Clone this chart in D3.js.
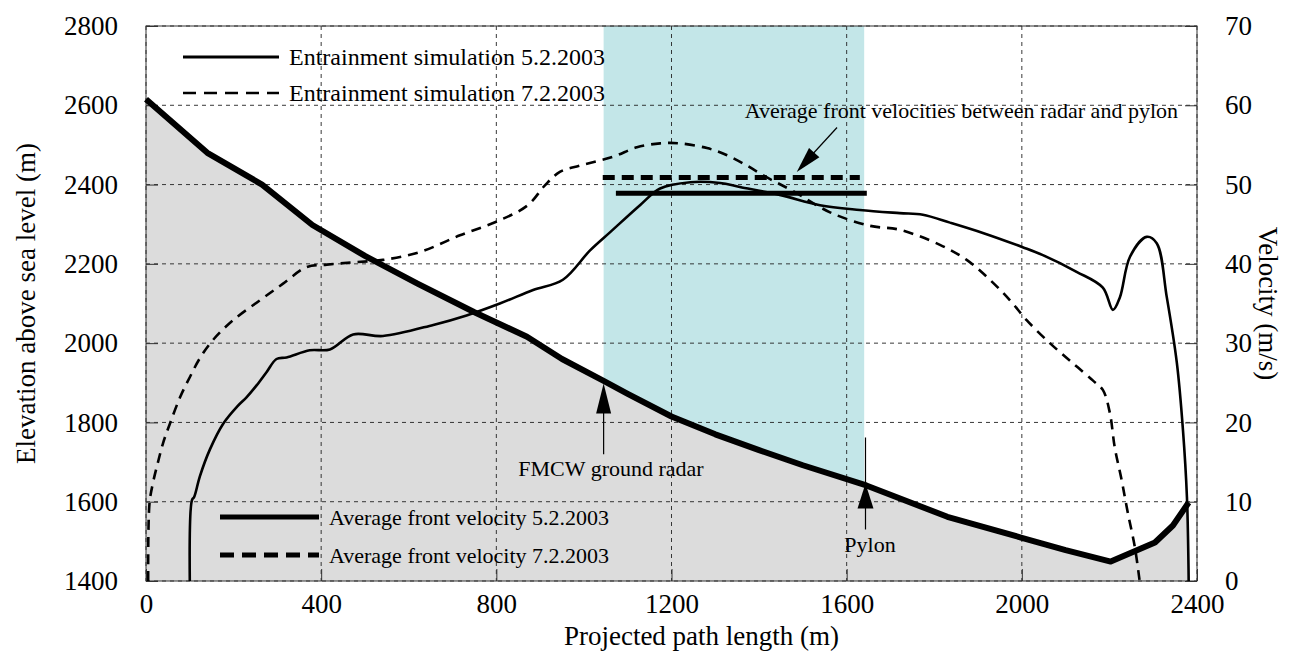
<!DOCTYPE html>
<html>
<head>
<meta charset="utf-8">
<script src="https://cdn.jsdelivr.net/npm/d3@7"></script>
<style>
  body { margin: 0; background: #fff; }
</style>
</head>
<body>
<div class="canvas"></div>
<script>
// terrain profile (projected path length m, elevation m)
const terrainDist = [0, 140, 265, 380, 500, 620, 750, 870, 950, 1045, 1100, 1200, 1300, 1400, 1500, 1645, 1830, 2000, 2100, 2203, 2304, 2345, 2381]
const terrainElev = [2615, 2480, 2400, 2298, 2220, 2150, 2078, 2016, 1960, 1905, 1872, 1815, 1770, 1730, 1692, 1641, 1562, 1509, 1478, 1449, 1497, 1540, 1598]

// entrainment simulation 5.2.2003 (m, m/s)
const sim05Dist = [100, 105, 110, 123, 146, 177, 208, 230, 253, 276, 298, 321, 374, 420, 473, 541, 656, 732, 808, 884, 952, 1014, 1060, 1128, 1174, 1243, 1311, 1356, 1447, 1539, 1630, 1721, 1774, 1836, 1911, 2002, 2048, 2125, 2185, 2208, 2224, 2247, 2285, 2308, 2331, 2354, 2368, 2377, 2381]
const sim05Vel = [0, 10.2, 10.6, 13.2, 16.6, 19.9, 22.0, 23.2, 24.7, 26.4, 28.0, 28.2, 29.1, 29.2, 31.1, 30.9, 32.3, 33.5, 35.0, 36.7, 38.0, 41.7, 44.0, 47.4, 49.5, 50.3, 50.2, 49.7, 48.7, 47.4, 46.8, 46.4, 46.2, 45.2, 43.9, 42.1, 41.1, 39.0, 37.0, 34.2, 35.8, 40.9, 43.4, 42.6, 35.8, 27.5, 19.0, 10.6, 0]

// entrainment simulation 7.2.2003 (m, m/s)
const sim07Dist = [5, 8, 16, 27, 39, 55, 78, 100, 123, 153, 199, 260, 313, 367, 413, 473, 541, 626, 717, 808, 872, 911, 945, 991, 1066, 1121, 1174, 1219, 1281, 1327, 1372, 1418, 1477, 1562, 1653, 1721, 1813, 1874, 1927, 1973, 2011, 2064, 2116, 2162, 2185, 2201, 2212, 2228, 2242, 2258, 2269]
const sim07Vel = [0, 9.8, 12.4, 14.9, 17.4, 19.9, 23.2, 25.7, 28.1, 30.4, 32.9, 35.4, 37.5, 39.6, 39.9, 40.2, 40.5, 41.5, 43.6, 45.5, 47.4, 49.9, 51.6, 52.4, 53.5, 54.7, 55.2, 55.2, 54.6, 53.7, 52.4, 50.9, 49.2, 46.5, 44.8, 44.3, 42.4, 40.5, 38.0, 35.4, 32.9, 30.0, 27.5, 25.3, 24.1, 21.2, 16.9, 12.7, 8.6, 4.3, 0]

// average front velocities between radar and pylon
const avgFrontFrom = [1073, 1043]
const avgFrontTo = [1646, 1630]
const avgFrontVel = [48.9, 50.9]

const radarDist = 1045
const pylonDist = 1640

const distTicks = [0, 400, 800, 1200, 1600, 2000, 2400]
const elevTicks = [1400, 1600, 1800, 2000, 2200, 2400, 2600, 2800]
const velTicks = [0, 10, 20, 30, 40, 50, 60, 70]

const simLabels = ['Entrainment simulation 5.2.2003', 'Entrainment simulation 7.2.2003']
const avgLabels = ['Average front velocity 5.2.2003', 'Average front velocity 7.2.2003']

const serif = "'Liberation Serif', 'Times New Roman', Times, 'DejaVu Serif', serif"
const width = 1291
const height = 654
const plot = { left: 146, right: 1197, top: 26, bottom: 581 }

const svg = d3.select('.canvas')
  .append('svg')
  .attr('width', width)
  .attr('height', height)
  .attr('font-family', serif)

const x = d3.scaleLinear().domain([0, 2400]).range([plot.left, plot.right])
const yElev = d3.scaleLinear().domain([1400, 2800]).range([plot.bottom, plot.top])
const yVel = d3.scaleLinear().domain([0, 70]).range([plot.bottom, plot.top])

const terrain = terrainDist.map((d, i) => [d, terrainElev[i]])
const sim05 = sim05Dist.map((d, i) => [d, sim05Vel[i]])
const sim07 = sim07Dist.map((d, i) => [d, sim07Vel[i]])

function addText(px, py, str, size, anchor) {
  return svg.append('text')
    .attr('x', px)
    .attr('y', py)
    .attr('text-anchor', anchor || 'start')
    .attr('font-family', serif)
    .attr('font-size', size)
    .attr('fill', '#000')
    .text(str)
}

// cyan band between radar and pylon
svg.append('rect')
  .attr('x', x(radarDist))
  .attr('y', plot.top)
  .attr('width', x(pylonDist) - x(radarDist))
  .attr('height', plot.bottom - plot.top)
  .attr('fill', '#c3e6e8')

// grey area under the terrain
svg.append('path')
  .datum(terrain)
  .attr('fill', '#dcdcdc')
  .attr('d', d3.area()
    .x(d => x(d[0]))
    .y0(plot.bottom)
    .y1(d => yElev(d[1])))

// grid
const grid = svg.append('g')
  .attr('stroke', '#222')
  .attr('stroke-width', 0.9)
  .attr('stroke-dasharray', '4,4')
grid.selectAll('.vgrid')
  .data(distTicks)
  .enter().append('line')
  .attr('x1', d => x(d)).attr('x2', d => x(d))
  .attr('y1', plot.top).attr('y2', plot.bottom)
grid.selectAll('.hgrid')
  .data(elevTicks)
  .enter().append('line')
  .attr('x1', plot.left).attr('x2', plot.right)
  .attr('y1', d => yElev(d)).attr('y2', d => yElev(d))

// frame
svg.append('rect')
  .attr('x', plot.left).attr('y', plot.top)
  .attr('width', plot.right - plot.left)
  .attr('height', plot.bottom - plot.top)
  .attr('fill', 'none')
  .attr('stroke', '#333')
  .attr('stroke-width', 1)

// axes
function styleAxis(g) {
  g.attr('font-family', serif).attr('font-size', 27)
  g.select('.domain').remove()
  g.selectAll('.tick line').attr('stroke', '#333').attr('stroke-width', 1)
  g.selectAll('text').attr('fill', '#000')
}

svg.append('g')
  .attr('transform', `translate(${plot.left},0)`)
  .call(d3.axisLeft(yElev).tickValues(elevTicks).tickFormat(d3.format('d')).tickSize(-12).tickPadding(28))
  .call(styleAxis)

svg.append('g')
  .attr('transform', `translate(${plot.right},0)`)
  .call(d3.axisRight(yVel).tickValues(velTicks).tickFormat(d3.format('d')).tickSize(-12).tickPadding(28))
  .call(styleAxis)

svg.append('g')
  .attr('transform', `translate(0,${plot.bottom})`)
  .call(d3.axisBottom(x).tickValues(distTicks).tickFormat(d3.format('d')).tickSize(-12).tickPadding(13))
  .call(styleAxis)

addText((plot.left + plot.right) / 2 + 30, 645, 'Projected path length (m)', 27, 'middle')

addText(0, 0, 'Elevation above sea level (m)', 27, 'middle')
  .attr('transform', `translate(35,${(plot.top + plot.bottom) / 2}) rotate(-90)`)

addText(0, 0, 'Velocity (m/s)', 27, 'middle')
  .attr('transform', `translate(1259,${(plot.top + plot.bottom) / 2}) rotate(90)`)

// simulation curves
const velLine = d3.line()
  .x(d => x(d[0]))
  .y(d => yVel(d[1]))
  .curve(d3.curveCatmullRom.alpha(0.5))

svg.append('path')
  .datum(sim07)
  .attr('fill', 'none')
  .attr('stroke', '#000')
  .attr('stroke-width', 2.6)
  .attr('stroke-dasharray', '10,7')
  .attr('d', velLine)

svg.append('path')
  .datum(sim05)
  .attr('fill', 'none')
  .attr('stroke', '#000')
  .attr('stroke-width', 2.6)
  .attr('d', velLine)

// terrain line
svg.append('path')
  .datum(terrain)
  .attr('fill', 'none')
  .attr('stroke', '#000')
  .attr('stroke-width', 6)
  .attr('stroke-linejoin', 'round')
  .attr('d', d3.line()
    .x(d => x(d[0]))
    .y(d => yElev(d[1])))

// average front velocity lines
svg.selectAll('.avg')
  .data(avgFrontVel)
  .enter().append('line')
  .attr('x1', (d, i) => x(avgFrontFrom[i]))
  .attr('x2', (d, i) => x(avgFrontTo[i]))
  .attr('y1', d => yVel(d))
  .attr('y2', d => yVel(d))
  .attr('stroke', '#000')
  .attr('stroke-width', 5)
  .attr('stroke-dasharray', (d, i) => i === 1 ? '12,7' : null)

// arrows
function arrowHead(tx, ty, fx, fy, len, half) {
  const a = Math.atan2(ty - fy, tx - fx)
  const bx = tx - len * Math.cos(a)
  const by = ty - len * Math.sin(a)
  const px = -Math.sin(a) * half
  const py = Math.cos(a) * half
  svg.append('path')
    .attr('d', `M${tx},${ty}L${bx + px},${by + py}L${bx - px},${by - py}Z`)
    .attr('fill', '#000')
}

function arrowLine(x1, y1, x2, y2) {
  svg.append('line')
    .attr('x1', x1).attr('y1', y1)
    .attr('x2', x2).attr('y2', y2)
    .attr('stroke', '#000')
    .attr('stroke-width', 1.2)
}

// radar
arrowLine(x(radarDist), yElev(1720), x(radarDist), yElev(1880))
arrowHead(x(radarDist), yElev(1898), x(radarDist), yElev(1720), 30, 7.5)
addText(611, 476, 'FMCW ground radar', 22, 'middle')

// pylon
arrowLine(x(pylonDist + 3), yElev(1530), x(pylonDist + 3), yElev(1762))
arrowHead(x(pylonDist + 3), yElev(1646), x(pylonDist + 3), yElev(1530), 25, 8)
addText(870, 552, 'Pylon', 22, 'middle')

// average velocities annotation
arrowLine(x(1578), yVel(57.2), x(1500), yVel(52.5))
arrowHead(x(1486), yVel(51.6), x(1578), yVel(57.2), 26, 7)
addText(1178, 118, 'Average front velocities between radar and pylon', 22, 'end')

// legends
simLabels.forEach((label, i) => {
  const ly = 57 + i * 36
  svg.append('line')
    .attr('x1', 183).attr('x2', 279)
    .attr('y1', ly).attr('y2', ly)
    .attr('stroke', '#000')
    .attr('stroke-width', i === 0 ? 3 : 2.4)
    .attr('stroke-dasharray', i === 1 ? '13,8' : null)
  addText(289, ly + 8, label, 24)
})

avgLabels.forEach((label, i) => {
  const ly = 517 + i * 38
  svg.append('line')
    .attr('x1', 220).attr('x2', 319)
    .attr('y1', ly).attr('y2', ly)
    .attr('stroke', '#000')
    .attr('stroke-width', 5)
    .attr('stroke-dasharray', i === 1 ? '14,8' : null)
  addText(329, ly + 8, label, 22)
})
</script>
</body>
</html>
